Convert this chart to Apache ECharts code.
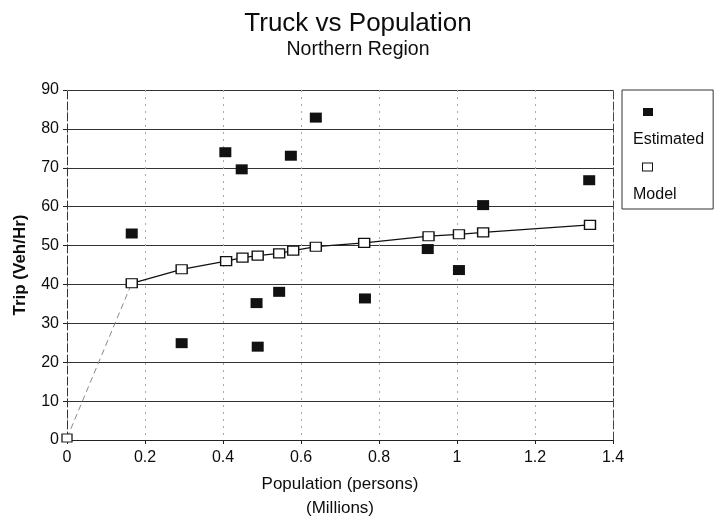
<!DOCTYPE html>
<html>
<head>
<meta charset="utf-8">
<script src="https://cdn.jsdelivr.net/npm/echarts@6/dist/echarts.min.js"></script>
<style>html,body{margin:0;padding:0;background:#fff}#c{width:716px;height:522px}</style>
</head>
<body>
<div id="c"></div>
<script>
// Estimated (observed) points: population in millions, trips veh/hr
const estX = [0.166, 0.294, 0.406, 0.448, 0.486, 0.489, 0.544, 0.574, 0.638, 0.764, 0.925, 1.005, 1.067, 1.339];
const estY = [53.1, 24.9, 74.0, 69.6, 35.2, 24.0, 38.1, 73.1, 82.9, 36.4, 49.1, 43.7, 60.4, 66.8];
// Model curve points
const modX = [0, 0.166, 0.294, 0.408, 0.450, 0.489, 0.544, 0.580, 0.638, 0.762, 0.927, 1.005, 1.067, 1.341];
const modY = [0.5, 40.3, 43.9, 46.0, 46.9, 47.4, 48.0, 48.7, 49.7, 50.7, 52.4, 52.9, 53.4, 55.3];
const xTicks = [0, 0.2, 0.4, 0.6, 0.8, 1, 1.2, 1.4];
const yTicks = [0, 10, 20, 30, 40, 50, 60, 70, 80, 90];

const zip = (a, b) => a.map((v, i) => [v, b[i]]);
const estData = zip(estX, estY);
const modData = zip(modX, modY);

const txt = '#0d0d0d';
const font = 'Liberation Sans, Arial, sans-serif';
const chart = echarts.init(document.getElementById('c'), null, {renderer: 'canvas'});
chart.setOption({
  backgroundColor: '#fff',
  animation: false,
  textStyle: {fontFamily: font, color: txt},
  title: [
    {text: 'Truck vs Population', left: 'center', top: 11, padding: 0,
     textStyle: {fontSize: 26, fontWeight: 'normal', color: txt, fontFamily: font}},
    {text: 'Northern Region', left: 'center', top: 40, padding: 0,
     textStyle: {fontSize: 19.5, fontWeight: 'normal', color: txt, fontFamily: font}}
  ],
  legend: {
    left: 622, top: 90, orient: 'vertical', icon: 'none',
    itemWidth: 0, itemHeight: 10, itemGap: 13,
    padding: [16, 9, 6, 6], borderColor: '#333', borderWidth: 1,
    data: ['Estimated', 'Model'],
    formatter: function (name) {
      return name === 'Estimated' ? '{sp|}{est|}\n{t|Estimated}' : '{sp|}{mod|}\n{t|Model}';
    },
    textStyle: {
      fontFamily: font,
      rich: {
        sp: {width: 10, height: 36},
        est: {width: 10, height: 8, backgroundColor: '#111'},
        mod: {width: 9, height: 7, backgroundColor: '#fff', borderColor: '#111', borderWidth: 1},
        t: {fontSize: 16, lineHeight: 20, color: txt, fontFamily: font}
      }
    }
  },
  grid: {left: 67, right: 103, top: 90, bottom: 82, containLabel: false, outerBoundsMode: 'none'},
  xAxis: {
    type: 'value', min: xTicks[0], max: xTicks[xTicks.length - 1], interval: 0.2,
    name: 'Population (persons)\n(Millions)', nameLocation: 'middle', nameGap: 32,
    nameTextStyle: {fontSize: 17, lineHeight: 24, color: txt, fontFamily: font},
    axisLine: {show: true, lineStyle: {color: '#222', width: 1.2}},
    axisTick: {show: true, length: 4, lineStyle: {color: '#222'}},
    axisLabel: {fontSize: 16, color: txt, margin: 10, fontFamily: font},
    splitLine: {show: true, lineStyle: {color: '#aaa', type: [2, 5], width: 1}}
  },
  yAxis: [{
    type: 'value', min: yTicks[0], max: yTicks[yTicks.length - 1], interval: 10,
    name: 'Trip (Veh/Hr)', nameLocation: 'middle', nameGap: 38,
    nameTextStyle: {fontSize: 17, fontWeight: 'bold', color: txt, fontFamily: font},
    axisLine: {show: true, lineStyle: {color: '#333', width: 1, type: [8, 3]}},
    axisTick: {show: true, length: 4, lineStyle: {color: '#222'}},
    axisLabel: {fontSize: 16, color: txt, margin: 8, fontFamily: font},
    splitLine: {show: true, lineStyle: {color: '#333', width: 1.2}}
  }, {
    type: 'value', position: 'right', min: yTicks[0], max: yTicks[yTicks.length - 1], interval: 10,
    axisLine: {show: true, lineStyle: {color: '#444', width: 1, type: [8, 3]}},
    axisTick: {show: false}, axisLabel: {show: false}, splitLine: {show: false}
  }],
  series: [
    {
      name: 'Model ext', type: 'line', data: modData.slice(0, 2),
      symbol: 'rect', symbolSize: [10, 8], showSymbol: true,
      itemStyle: {color: '#fff', borderColor: '#222', borderWidth: 1.2},
      lineStyle: {color: '#888', width: 1, type: [6, 4]}, z: 2
    },
    {
      name: 'Model', type: 'line', data: modData.slice(1),
      symbol: 'rect', symbolSize: [11, 9], showSymbol: true,
      itemStyle: {color: '#fff', borderColor: '#111', borderWidth: 1.3},
      lineStyle: {color: '#111', width: 1.3}, z: 3
    },
    {
      name: 'Estimated', type: 'scatter', data: estData,
      symbol: 'rect', symbolSize: [12, 10],
      itemStyle: {color: '#111', opacity: 1}, z: 4
    }
  ]
});
</script>
</body>
</html>
